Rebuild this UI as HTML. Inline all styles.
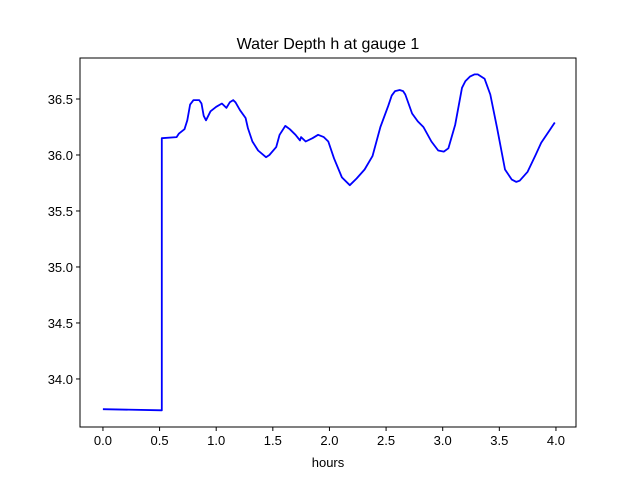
<!DOCTYPE html>
<html><head><meta charset="utf-8">
<style>body{margin:0;background:#fff}svg{display:block;font-family:"Liberation Sans",sans-serif}</style>
</head><body>
<svg id="chart" width="640" height="480" xmlns="http://www.w3.org/2000/svg">
<rect width="640" height="480" fill="#fff"/>
<text x="328" y="49" text-anchor="middle" font-size="16">Water Depth h at gauge 1</text>
<text x="328" y="467" text-anchor="middle" font-size="13">hours</text>
<g id="xticks"></g><g id="yticks"></g>
<polyline id="series" fill="none" stroke="#0000ff" stroke-width="1.8" stroke-linejoin="round"/>
<rect x="80" y="58" width="496" height="369" fill="none" stroke="#000" stroke-width="1"/>
</svg>
<script>
const hours=[0,0.52,0.52,0.65,0.67,0.72,0.745,0.77,0.80,0.85,0.87,0.89,0.91,0.95,1.0,1.05,1.09,1.12,1.15,1.17,1.21,1.26,1.28,1.32,1.37,1.44,1.47,1.53,1.56,1.61,1.65,1.70,1.74,1.75,1.79,1.85,1.90,1.95,1.99,2.04,2.11,2.18,2.24,2.31,2.38,2.45,2.52,2.55,2.58,2.62,2.65,2.67,2.73,2.78,2.83,2.90,2.96,3.01,3.05,3.11,3.17,3.20,3.24,3.28,3.31,3.37,3.42,3.48,3.55,3.61,3.65,3.68,3.75,3.82,3.87,3.95,3.99];
const depth=[33.73,33.72,36.15,36.16,36.19,36.23,36.31,36.45,36.49,36.49,36.46,36.35,36.31,36.39,36.43,36.46,36.42,36.47,36.49,36.47,36.40,36.33,36.24,36.12,36.04,35.98,36.0,36.07,36.18,36.26,36.23,36.18,36.13,36.16,36.12,36.15,36.18,36.16,36.12,35.97,35.80,35.73,35.79,35.87,35.99,36.25,36.44,36.53,36.57,36.58,36.57,36.54,36.37,36.30,36.25,36.12,36.04,36.03,36.06,36.27,36.60,36.66,36.70,36.72,36.72,36.68,36.54,36.24,35.87,35.78,35.76,35.77,35.85,36.0,36.11,36.23,36.29];
const xTicks=[0,0.5,1,1.5,2,2.5,3,3.5,4];
const yTicks=[34.0,34.5,35.0,35.5,36.0,36.5];
const X0=80,X1=576,Y0=58,Y1=427,xmin=-0.2026,xmax=4.177,ymin=33.571,ymax=36.866;
const sx=v=>X0+(v-xmin)/(xmax-xmin)*(X1-X0);
const sy=v=>Y1-(v-ymin)/(ymax-ymin)*(Y1-Y0);
const NS="http://www.w3.org/2000/svg";
const xg=document.getElementById('xticks'),yg=document.getElementById('yticks');
xTicks.forEach(t=>{
 const l=document.createElementNS(NS,'line');
 l.setAttribute('x1',sx(t));l.setAttribute('x2',sx(t));l.setAttribute('y1',Y1);l.setAttribute('y2',Y1+4);l.setAttribute('stroke','#000');
 
 
 xg.appendChild(l);
 const tx=document.createElementNS(NS,'text');
 tx.setAttribute('x',sx(t));tx.setAttribute('y',Y1+18);tx.setAttribute('text-anchor','middle');tx.setAttribute('font-size','13');
 tx.textContent=t.toFixed(1);
 
 
 xg.appendChild(tx);
});
yTicks.forEach(t=>{
 const l=document.createElementNS(NS,'line');
 l.setAttribute('x1',X0-4);l.setAttribute('x2',X0);l.setAttribute('y1',sy(t));l.setAttribute('y2',sy(t));l.setAttribute('stroke','#000');
 
 
 yg.appendChild(l);
 const tx=document.createElementNS(NS,'text');
 tx.setAttribute('x',X0-7);tx.setAttribute('y',sy(t)+5);tx.setAttribute('text-anchor','end');tx.setAttribute('font-size','13');
 tx.textContent=t.toFixed(1);
 
 
 yg.appendChild(tx);
});
document.getElementById('series').setAttribute('points',hours.map((h,i)=>sx(h).toFixed(1)+','+sy(depth[i]).toFixed(1)).join(' '));
</script>
</body></html>
